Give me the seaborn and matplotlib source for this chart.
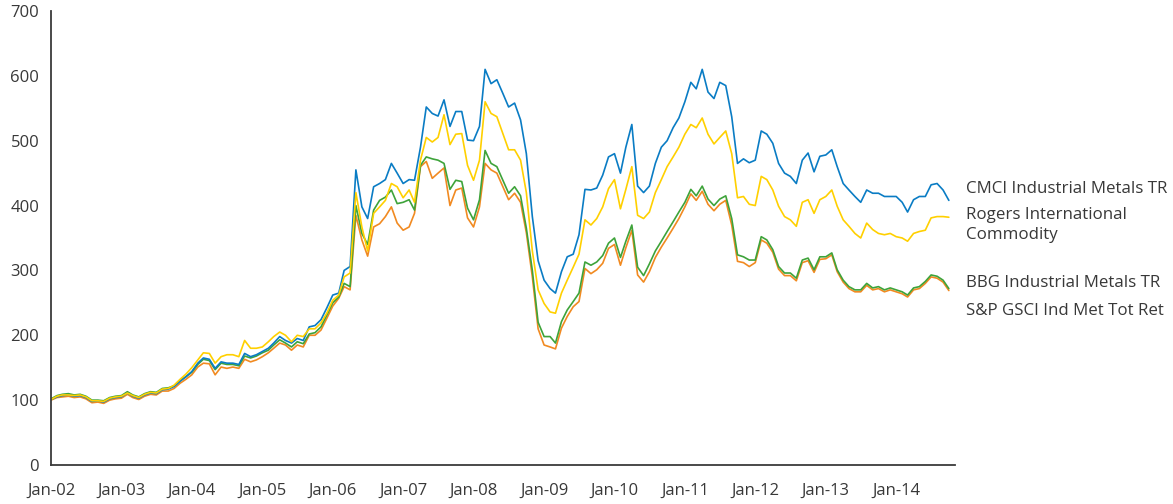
import matplotlib
matplotlib.use('Agg')
from matplotlib import pyplot as plt
import matplotlib.dates as mdates
import seaborn as sns
import pandas as pd

# monthly index levels, Jan-02 .. Oct-14
cmci = [101, 105, 107, 108, 106, 107, 104, 98, 99, 97, 102, 104,
        105, 111, 106, 103, 108, 111, 110, 116, 117, 121, 129, 136,
        144, 157, 165, 163, 149, 159, 157, 157, 155, 172, 167, 170,
        175, 180, 188, 198, 192, 188, 195, 192, 213, 215, 224, 242,
        262, 265, 300, 306, 455, 398, 380, 429, 434, 440, 465, 450,
        434, 440, 439, 490, 552, 542, 538, 563, 522, 545, 545, 501,
        500, 522, 610, 588, 594, 573, 552, 558, 532, 480, 383, 315,
        285, 272, 265, 298, 321, 325, 355, 425, 424, 427, 447, 475,
        480, 450, 490, 525, 430, 420, 430, 465, 490, 500, 520, 535,
        560, 590, 580, 610, 575, 565, 590, 585, 537, 465, 472, 466,
        470, 515, 510, 496, 465, 450, 445, 434, 470, 481, 452, 476,
        478, 486, 460, 434, 424, 414, 405, 424, 419, 419, 414, 414,
        414, 405, 390, 409, 414, 414, 432, 434, 424, 408]

rogers = [101, 106, 108, 108, 107, 108, 105, 99, 99, 98, 103, 105,
          106, 111, 107, 104, 109, 112, 111, 117, 118, 123, 132, 140,
          150, 162, 173, 172, 157, 167, 170, 170, 167, 192, 180, 180,
          182, 190, 198, 205, 200, 190, 200, 198, 210, 210, 219, 234,
          254, 262, 290, 296, 420, 367, 330, 388, 398, 408, 434, 429,
          412, 424, 405, 470, 505, 498, 505, 540, 494, 510, 511, 462,
          439, 470, 560, 542, 537, 511, 486, 486, 470, 420, 330, 270,
          249, 236, 234, 265, 285, 305, 325, 378, 370, 380, 398, 426,
          440, 395, 425, 460, 385, 380, 390, 420, 440, 460, 475, 490,
          510, 525, 520, 535, 510, 495, 505, 515, 480, 412, 414, 402,
          400, 445, 440, 424, 399, 383, 378, 368, 405, 409, 388, 409,
          414, 424, 399, 378, 368, 357, 350, 373, 363, 357, 355, 357,
          352, 350, 345, 357, 360, 362, 381, 383, 383, 382]

bbg = [102, 107, 109, 110, 108, 109, 106, 100, 100, 99, 104, 106,
       107, 113, 108, 105, 110, 113, 112, 118, 119, 122, 130, 136,
       143, 155, 163, 161, 147, 157, 155, 155, 153, 168, 165, 168,
       173, 177, 185, 193, 188, 182, 190, 187, 202, 204, 213, 231,
       250, 259, 280, 275, 400, 357, 340, 393, 408, 413, 424, 403,
       405, 409, 393, 462, 475, 472, 470, 465, 425, 439, 437, 396,
       378, 409, 485, 465, 460, 439, 419, 429, 415, 365, 300, 220,
       198, 198, 188, 221, 239, 252, 265, 313, 308, 313, 323, 342,
       350, 320, 345, 370, 305, 292, 310, 330, 345, 360, 375, 390,
       405, 425, 415, 430, 410, 400, 410, 415, 380, 324, 321, 316,
       316, 352, 347, 332, 306, 296, 296, 288, 316, 319, 301, 321,
       321, 327, 301, 285, 275, 270, 270, 280, 273, 275, 270, 273,
       270, 267, 262, 273, 275, 283, 293, 291, 285, 272]

gsci = [100, 104, 105, 106, 104, 105, 102, 96, 97, 95, 100, 102,
        103, 109, 104, 101, 106, 109, 108, 114, 114, 118, 126, 132,
        139, 151, 157, 156, 139, 151, 149, 151, 149, 163, 159, 162,
        167, 173, 180, 188, 185, 177, 185, 182, 200, 200, 208, 226,
        245, 257, 275, 270, 385, 347, 322, 367, 372, 383, 398, 373,
        362, 367, 388, 460, 468, 442, 450, 458, 400, 424, 427, 381,
        367, 398, 465, 455, 450, 429, 409, 419, 405, 358, 290, 210,
        185, 182, 179, 211, 229, 244, 252, 303, 295, 301, 311, 334,
        340, 308, 335, 362, 293, 282, 298, 320, 336, 350, 365, 380,
        398, 418, 408, 422, 402, 392, 402, 408, 370, 314, 312, 306,
        312, 347, 342, 328, 302, 292, 292, 284, 312, 315, 297, 317,
        318, 324, 298, 282, 272, 267, 267, 277, 270, 272, 267, 270,
        267, 264, 259, 270, 272, 280, 290, 288, 282, 269]

names = ['S&P GSCI Ind Met Tot Ret', 'BBG Industrial Metals TR',
         'CMCI Industrial Metals TR', 'Rogers International\nCommodity']
colors = ['#f18a21', '#3ea33a', '#0a7cc4', '#ffd000']
label_y = [237, 281, 425, 370]

dates = pd.date_range('2002-01-01', periods=len(cmci), freq='MS')
frames = []
for name, vals in zip(names, [gsci, bbg, cmci, rogers]):
    frames.append(pd.DataFrame({'date': dates, 'value': vals, 'index': name}))
df = pd.concat(frames, ignore_index=True)

sns.set_style('white')
plt.rcParams['font.family'] = ['Open Sans', 'DejaVu Sans']
txt = '#383838'

fig = plt.figure(figsize=(11.73, 5.04), dpi=100)
ax = fig.add_axes([0.0435, 0.0774, 0.7705, 0.9008])
sns.lineplot(data=df, x='date', y='value', hue='index', hue_order=names,
             palette=colors, linewidth=1.2, legend=False, ax=ax)

ax.set_xlim(pd.Timestamp('2002-01-01'), pd.Timestamp('2014-11-01'))
ax.set_ylim(0, 700)
ax.set_yticks(range(0, 701, 100))
ax.xaxis.set_major_locator(mdates.YearLocator())
ax.xaxis.set_major_formatter(mdates.DateFormatter('%b-%y'))
ax.set_xlabel('')
ax.set_ylabel('')

sns.despine(ax=ax)
for s in ['left', 'bottom']:
    ax.spines[s].set_color('#3a3a3a')
    ax.spines[s].set_linewidth(1.3)
ax.tick_params(axis='both', direction='out', length=5, width=1.2,
               color='#3a3a3a', labelsize=12, labelcolor=txt)
ax.tick_params(axis='x', pad=8)

for name, y in zip(names, label_y):
    ax.text(1.012, y, name, transform=ax.get_yaxis_transform(),
            ha='left', va='center', fontsize=12.2, color=txt, linespacing=1.4)

plt.savefig('out.png', dpi=100)
